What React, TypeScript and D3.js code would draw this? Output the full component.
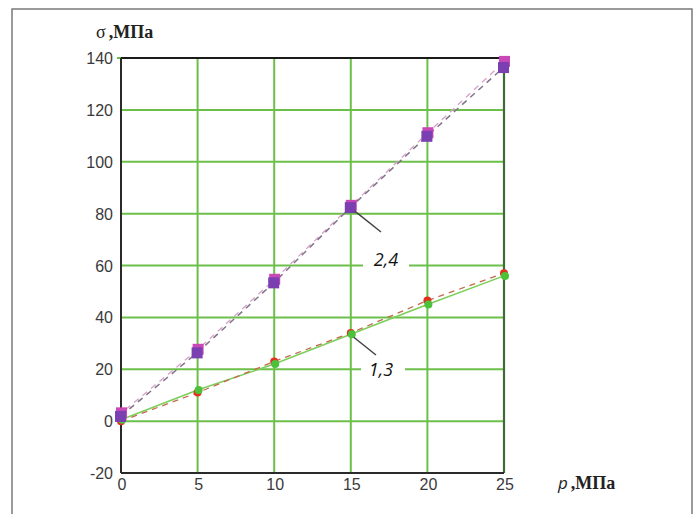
import React from "react";
import * as d3 from "d3";

const pressures = [0, 5, 10, 15, 20, 25];
const series1 = [0, 11, 23, 34, 46.5, 57];
const series3 = [0.5, 12, 22, 33.5, 45, 56];
const series2 = [3, 27.5, 54.5, 83, 111, 138.5];
const series4 = [2, 26.5, 53.5, 82.5, 110, 136.5];
const xTicks = [0, 5, 10, 15, 20, 25];
const yTicks = [-20, 0, 20, 40, 60, 80, 100, 120, 140];

export default function App() {
  const x = d3.scaleLinear().domain([0, 25]).range([121, 504]);
  const y = d3.scaleLinear().domain([-20, 140]).range([473, 58]);
  const line = (vals: number[]) =>
    d3.line<number>().x((_, i) => x(pressures[i])).y((v) => y(v))(vals) || "";
  const green = "#6cc04a";
  const tickFont = "'Liberation Sans', Arial, sans-serif";
  const serif = "'Liberation Serif', 'DejaVu Serif', serif";
  return (
    <svg width={700} height={514} style={{ position: "absolute", left: 0, top: 0, background: "#fff" }}>
      <rect x={12} y={9} width={680} height={520} fill="#fff" stroke="#7a7a7a" strokeWidth={1.5} />
      {/* grid */}
      {xTicks.filter((t) => t > 0 && t < 25).map((t) => (
        <line key={"gx" + t} x1={x(t)} x2={x(t)} y1={y(140)} y2={y(-20)} stroke={green} strokeWidth={2} />
      ))}
      {yTicks.filter((t) => t > -20 && t < 140).map((t) => (
        <line key={"gy" + t} x1={x(0)} x2={x(25)} y1={y(t)} y2={y(t)} stroke={green} strokeWidth={2} />
      ))}
      <line x1={x(0) - 4} x2={x(0)} y1={y(140)} y2={y(140)} stroke={green} strokeWidth={2} />
      {/* frame */}
      <line x1={x(0)} x2={x(25)} y1={y(140)} y2={y(140)} stroke="#1a1a1a" strokeWidth={2.2} />
      <line x1={x(25)} x2={x(25)} y1={y(140)} y2={y(-20)} stroke="#3f6b35" strokeWidth={2.2} />
      <line x1={x(0)} x2={x(0)} y1={y(140)} y2={y(-20)} stroke="#2a2a2a" strokeWidth={2} />
      <line x1={x(0)} x2={x(25)} y1={y(-20)} y2={y(-20)} stroke="#2a2a2a" strokeWidth={2} />
      {/* tick labels */}
      {yTicks.map((t) => (
        <text key={"ty" + t} x={113} y={y(t) + 6} textAnchor="end" fontFamily={tickFont} fontSize={16} fill="#3a3a3a">
          {t}
        </text>
      ))}
      {xTicks.map((t) => (
        <text key={"tx" + t} x={x(t) + 1} y={490} textAnchor="middle" fontFamily={tickFont} fontSize={16} fill="#3a3a3a">
          {t}
        </text>
      ))}
      {/* axis titles */}
      <text x={96} y={38} fontFamily={serif} fontSize={18} fill="#222">
        σ<tspan fontWeight="bold" dx={3}>,МПа</tspan>
      </text>
      <text x={558} y={489} fill="#222">
        <tspan fontFamily="'Open Sans', sans-serif" fontStyle="italic" fontSize={17}>p</tspan>
        <tspan fontFamily={serif} fontWeight="bold" fontSize={18} dx={3}>,МПа</tspan>
      </text>
      {/* lines 1,3 */}
      <path d={line(series3)} fill="none" stroke="#7ccf5a" strokeWidth={1.6} />
      <path d={line(series1)} fill="none" stroke="#c46a50" strokeWidth={1.3} strokeDasharray="6,5" />
      {/* lines 2,4 */}
      <path d={line(series2)} fill="none" stroke="#d9a0c8" strokeWidth={1.3} strokeDasharray="6,5" strokeDashoffset={5} />
      <path d={line(series4)} fill="none" stroke="#7f7488" strokeWidth={1.5} strokeDasharray="6,5" />
      {/* markers */}
      {series1.map((v, i) => (
        <circle key={"m1" + i} cx={x(pressures[i])} cy={y(v)} r={4} fill="#e0321e" />
      ))}
      {series3.map((v, i) => (
        <circle key={"m3" + i} cx={x(pressures[i]) + 1} cy={y(v)} r={4} fill="#4cc23a" />
      ))}
      {series2.map((v, i) => (
        <rect key={"m2" + i} x={x(pressures[i]) - 5} y={y(v) - 6} width={11} height={11} fill="#c848b8" />
      ))}
      {series4.map((v, i) => (
        <rect key={"m4" + i} x={x(pressures[i]) - 6} y={y(v) - 5} width={11} height={11} fill="#7a3fb0" />
      ))}
      {/* annotations */}
      <line x1={x(15) + 4} y1={y(series4[3]) + 4} x2={381} y2={232} stroke="#444" strokeWidth={1.5} />
      <rect x={363} y={246} width={46} height={25} fill="#fff" />
      <text x={386} y={266} textAnchor="middle" fontFamily="'Open Sans', sans-serif" fontStyle="italic" fontSize={18} fill="#111">
        2,4
      </text>
      <line x1={x(15) + 3} y1={y(series3[3]) + 3} x2={376} y2={355} stroke="#444" strokeWidth={1.5} />
      <rect x={361} y={357} width={44} height={25} fill="#fff" />
      <text x={381} y={376} textAnchor="middle" fontFamily="'Open Sans', sans-serif" fontStyle="italic" fontSize={18} fill="#111">
        1,3
      </text>
    </svg>
  );
}
